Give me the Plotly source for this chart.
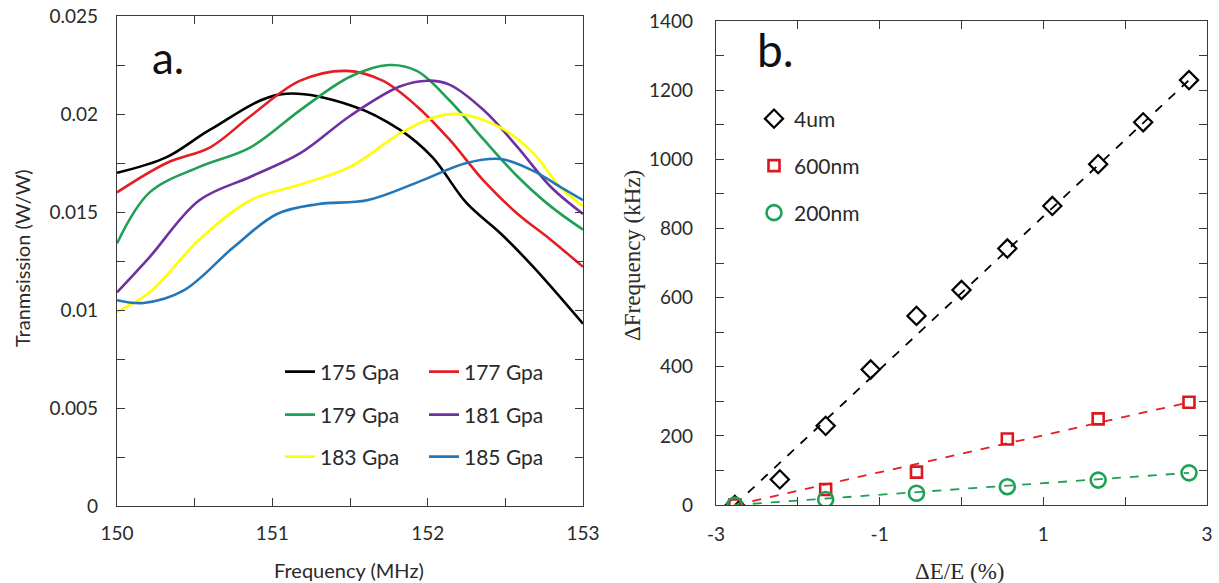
import plotly.graph_objects as go

# ---------------- panel a: transmission spectra ----------------
series_names = ["175 Gpa", "177 Gpa", "179 Gpa", "181 Gpa", "183 Gpa", "185 Gpa"]
series_colors = ["#000000", "#e31e24", "#1fa055", "#7030a0", "#ffff00", "#2277bb"]

freq_175 = [150.0, 150.32, 150.6, 151.05, 151.52, 151.82, 152.03, 152.25, 152.47, 152.68, 153.0]
trans_175 = [0.0170, 0.0178, 0.0192, 0.0210, 0.0204, 0.0192, 0.0178, 0.01546, 0.0139, 0.0122, 0.0093]

freq_177 = [150.0, 150.32, 150.6, 150.86, 151.18, 151.48, 151.71, 151.93, 152.14, 152.36, 152.58, 152.79, 153.0]
trans_177 = [0.0160, 0.0175, 0.0183, 0.0199, 0.0217, 0.0222, 0.0217, 0.0204, 0.0187, 0.0166, 0.0149, 0.0136, 0.0122]

freq_179 = [150.0, 150.21, 150.53, 150.86, 151.18, 151.5, 151.75, 151.93, 152.14, 152.36, 152.58, 152.79, 153.0]
trans_179 = [0.0134, 0.0160, 0.0173, 0.0183, 0.0202, 0.0219, 0.0225, 0.0222, 0.0207, 0.0187, 0.0168, 0.0153, 0.0141]

freq_181 = [150.0, 150.21, 150.53, 150.86, 151.18, 151.5, 151.82, 152.0, 152.14, 152.36, 152.58, 152.79, 153.0]
trans_181 = [0.0109, 0.0127, 0.0156, 0.0168, 0.0180, 0.0199, 0.0214, 0.0217, 0.0215, 0.0202, 0.0183, 0.0163, 0.0149]

freq_183 = [150.0, 150.21, 150.53, 150.86, 151.18, 151.5, 151.82, 152.03, 152.2, 152.47, 152.68, 152.85, 153.0]
trans_183 = [0.0099, 0.0109, 0.0136, 0.0156, 0.0164, 0.0173, 0.0190, 0.0198, 0.0200, 0.0193, 0.0180, 0.0163, 0.0153]

freq_185 = [150.0, 150.17, 150.43, 150.75, 151.03, 151.29, 151.61, 151.93, 152.25, 152.47, 152.68, 152.85, 153.0]
trans_185 = [0.0105, 0.01036, 0.0110, 0.0132, 0.0149, 0.0154, 0.0156, 0.0165, 0.0175, 0.0177, 0.0171, 0.0163, 0.0156]

freq_sets = [freq_175, freq_177, freq_179, freq_181, freq_183, freq_185]
trans_sets = [trans_175, trans_177, trans_179, trans_181, trans_183, trans_185]

freq_ticks = [150, 150.5, 151, 151.5, 152, 152.5, 153]
freq_labels = ["150", "", "151", "", "152", "", "153"]
trans_ticks = [0, 0.0025, 0.005, 0.0075, 0.01, 0.0125, 0.015, 0.0175, 0.02, 0.0225, 0.025]
trans_labels = ["0", "", "0.005", "", "0.01", "", "0.015", "", "0.02", "", "0.025"]

# ---------------- panel b: frequency shift vs modulus change ----------------
strain_4um = [-2.77, -2.22, -1.66, -1.11, -0.55, 0.0, 0.56, 1.11, 1.67, 2.22, 2.78]
shift_4um = [0, 74, 229, 392, 547, 622, 742, 865, 986, 1107, 1229]

strain_600nm = [-2.77, -1.66, -0.55, 0.56, 1.67, 2.78]
shift_600nm = [0, 45, 95, 191, 249, 297]

strain_200nm = [-2.77, -1.66, -0.55, 0.56, 1.67, 2.78]
shift_200nm = [0, 16, 34, 53, 72, 93]

strain_ticks = [-3, -2, -1, 0, 1, 2, 3]
strain_labels = ["-3", "", "-1", "", "1", "", "3"]
shift_ticks = list(range(0, 1401, 100))
shift_labels = [str(v) if v % 200 == 0 else "" for v in shift_ticks]

SANS = "Lato"
SERIF = "Liberation Serif"
AXIS_COLOR = "#3a3a3a"
TEXT_COLOR = "#2a2a2a"

fig = go.Figure()

# spectra, legend laid out as three rows of two entries
row_legends = ["legend", "legend", "legend2", "legend2", "legend3", "legend3"]
for name, color, fx, ty, lg in zip(series_names, series_colors, freq_sets, trans_sets, row_legends):
    fig.add_trace(go.Scatter(
        x=fx, y=ty, name=name, mode="lines",
        line=dict(color=color, width=2.6, shape="spline", smoothing=1.0),
        xaxis="x", yaxis="y", legend=lg,
    ))

# dashed trend lines through the end points of each set
for sx, sy, color in [(strain_4um, shift_4um, "#000000"),
                      (strain_600nm, shift_600nm, "#e31e24"),
                      (strain_200nm, shift_200nm, "#1fa055")]:
    fig.add_trace(go.Scatter(
        x=[sx[0], sx[-1]], y=[sy[0], sy[-1]], mode="lines",
        line=dict(color=color, width=1.8, dash="dash"),
        showlegend=False, hoverinfo="skip", xaxis="x2", yaxis="y2",
    ))

fig.add_trace(go.Scatter(
    x=strain_4um, y=shift_4um, name="4um", mode="markers",
    marker=dict(symbol="diamond-open", size=14, color="#000000", line=dict(width=2.2)),
    xaxis="x2", yaxis="y2", legend="legend4",
))
fig.add_trace(go.Scatter(
    x=strain_600nm, y=shift_600nm, name="600nm", mode="markers",
    marker=dict(symbol="square-open", size=11, color="#d71920", line=dict(width=2.6)),
    xaxis="x2", yaxis="y2", legend="legend5",
))
fig.add_trace(go.Scatter(
    x=strain_200nm, y=shift_200nm, name="200nm", mode="markers",
    marker=dict(symbol="circle-open", size=15, color="#1fa055", line=dict(width=2.6)),
    xaxis="x2", yaxis="y2", legend="legend6",
))

W, H = 1219, 583


def px_x(v):
    return v / W


def px_y(v):
    return 1 - v / H


axis_common = dict(
    showline=True, linecolor=AXIS_COLOR, linewidth=1.2, mirror="ticks",
    ticks="inside", ticklen=8, tickcolor=AXIS_COLOR, tickwidth=1.2,
    showgrid=False, zeroline=False, automargin=False,
    tickfont=dict(family=SANS, size=19, color=TEXT_COLOR),
    tickmode="array", fixedrange=True,
)

legend_common = dict(
    orientation="h", xanchor="left", yanchor="middle",
    bgcolor="rgba(0,0,0,0)", borderwidth=0,
    font=dict(family=SANS, size=21, color=TEXT_COLOR),
    entrywidthmode="pixels", entrywidth=99, itemwidth=30,
)
legend_right = dict(
    orientation="v", xanchor="left", yanchor="middle",
    bgcolor="rgba(0,0,0,0)", borderwidth=0,
    font=dict(family=SANS, size=21, color=TEXT_COLOR),
    itemwidth=30,
)


def label(text, x, y, family, size, angle=0):
    return dict(text=text, x=px_x(x), y=px_y(y), xref="paper", yref="paper",
                xanchor="center", yanchor="middle", showarrow=False, textangle=angle,
                font=dict(family=family, size=size, color=TEXT_COLOR))


fig.update_layout(
    width=W, height=H,
    margin=dict(l=0, r=0, t=0, b=0, autoexpand=False),
    paper_bgcolor="white", plot_bgcolor="white",
    xaxis=dict(axis_common, domain=[px_x(117), px_x(583)], range=[150, 153],
               tickvals=freq_ticks, ticktext=freq_labels, ticklabelstandoff=10, anchor="y"),
    yaxis=dict(axis_common, domain=[1 - 506 / H, 1 - 16 / H], range=[0, 0.025],
               tickvals=trans_ticks, ticktext=trans_labels, ticklabelstandoff=14, anchor="x"),
    xaxis2=dict(axis_common, domain=[px_x(716), px_x(1207)], range=[-3, 3],
                tickvals=strain_ticks, ticktext=strain_labels, ticklabelstandoff=12, anchor="y2"),
    yaxis2=dict(axis_common, domain=[1 - 505 / H, 1 - 21 / H], range=[0, 1400],
                tickvals=shift_ticks, ticktext=shift_labels, ticklabelstandoff=18, anchor="x2"),
    legend=dict(legend_common, x=px_x(280), y=px_y(372)),
    legend2=dict(legend_common, x=px_x(280), y=px_y(415)),
    legend3=dict(legend_common, x=px_x(280), y=px_y(457)),
    legend4=dict(legend_right, x=px_x(754), y=px_y(119)),
    legend5=dict(legend_right, x=px_x(754), y=px_y(166)),
    legend6=dict(legend_right, x=px_x(754), y=px_y(213)),
    annotations=[
        label("Frequency (MHz)", 349, 570, SANS, 20),
        label("Tranmsission (W/W)", 22, 258, SANS, 20, -90),
        label("ΔE/E (%)", 960, 571, SERIF, 23),
        label("ΔFrequency (kHz)", 632, 256, SERIF, 23, -90),
        dict(text="a.", x=px_x(150), y=px_y(57), xref="paper", yref="paper",
             xanchor="left", yanchor="middle", showarrow=False,
             font=dict(family=SANS, size=44, color="#111111")),
        dict(text="b.", x=px_x(755), y=px_y(50), xref="paper", yref="paper",
             xanchor="left", yanchor="middle", showarrow=False,
             font=dict(family=SANS, size=46, color="#111111")),
    ],
)

fig.write_html("out.html")
